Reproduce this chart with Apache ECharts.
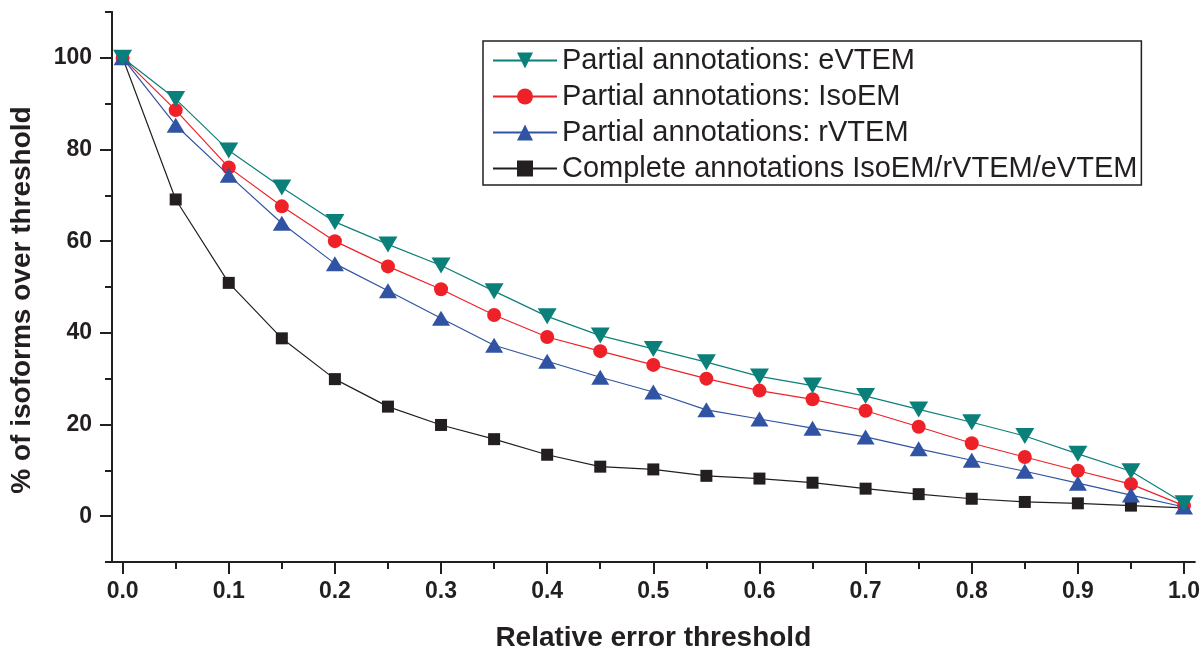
<!DOCTYPE html>
<html>
<head>
<meta charset="utf-8">
<script src="https://cdn.jsdelivr.net/npm/echarts@6/dist/echarts.min.js"></script>
<style>
  html, body { margin: 0; padding: 0; background: #fff; }
  #chart { width: 1203px; height: 657px; }
</style>
</head>
<body>
<div id="chart"></div>
<script>
// relative error thresholds (x)
const thresholds = [0, 0.05, 0.1, 0.15, 0.2, 0.25, 0.3, 0.35, 0.4, 0.45, 0.5,
  0.55, 0.6, 0.65, 0.7, 0.75, 0.8, 0.85, 0.9, 0.95, 1.0]

// % of isoforms over threshold
const eVTEM = [100, 91, 79.8, 71.7, 64.2, 59.3, 54.7, 49.1, 43.6, 39.4, 36.5,
  33.6, 30.5, 28.5, 26.2, 23.3, 20.5, 17.5, 13.6, 9.8, 2.8]
const isoEM = [100, 88.6, 76.1, 67.6, 60.0, 54.5, 49.5, 43.9, 39.1, 36.0, 33.0,
  30.0, 27.4, 25.5, 23.0, 19.5, 15.9, 12.9, 9.9, 7.0, 2.3]
const rVTEM = [100, 85.3, 74.4, 63.9, 55.1, 49.2, 43.2, 37.3, 33.8, 30.3, 27.1,
  23.2, 21.2, 19.2, 17.3, 14.7, 12.2, 9.8, 7.2, 4.6, 2.0]
const complete = [100, 69.1, 50.9, 38.8, 29.9, 23.9, 19.9, 16.8, 13.4, 10.8, 10.2,
  8.8, 8.2, 7.3, 6.0, 4.8, 3.8, 3.1, 2.8, 2.3, 1.8]

const seriesNames = [
  'Partial annotations: eVTEM',
  'Partial annotations: IsoEM',
  'Partial annotations: rVTEM',
  'Complete annotations IsoEM/rVTEM/eVTEM'
]

// tick positions
const xMajorTicks = [0, 0.1, 0.2, 0.3, 0.4, 0.5, 0.6, 0.7, 0.8, 0.9, 1.0]
const xMinorTicks = [0.05, 0.15, 0.25, 0.35, 0.45, 0.55, 0.65, 0.75, 0.85, 0.95]
const yMajorTicks = [0, 20, 40, 60, 80, 100]
const yMinorTicks = [-10, 10, 30, 50, 70, 90, 110]

const ink = '#231f20'
const font = '"Liberation Sans", Arial, sans-serif'

function pairs(vals) {
  return thresholds.map((x, i) => [x, vals[i]])
}

const chart = echarts.init(document.getElementById('chart'), null, { renderer: 'canvas' })

const baseAxis = {
  axisLine: { show: true, onZero: false, lineStyle: { color: ink, width: 2 } },
  splitLine: { show: false }
}

// major ticks + labels on the first axis, minor ticks on an overlaid second axis
function ticks(len, values) {
  return { show: true, inside: false, length: len, customValues: values, lineStyle: { color: ink, width: 2 } }
}

const option = {
  backgroundColor: '#fff',
  animation: false,
  grid: { left: 112, right: 6, top: 12, bottom: 88 },
  legend: {
    orient: 'vertical',
    left: 483,
    top: 41,
    padding: [5, 4, 2, 9],
    itemGap: 7,
    itemWidth: 64,
    itemHeight: 20,
    borderColor: ink,
    borderWidth: 1.5,
    data: seriesNames,
    textStyle: { fontFamily: font, fontSize: 29, color: ink }
  },
  xAxis: [
    Object.assign({}, baseAxis, {
      type: 'value',
      position: 'bottom',
      min: -0.01,
      max: 1.01,
      name: 'Relative error threshold',
      nameLocation: 'middle',
      nameGap: 62,
      nameTextStyle: { fontFamily: font, fontSize: 28, fontWeight: 'bold', color: ink },
      axisTick: ticks(12, xMajorTicks),
      axisLabel: {
        customValues: xMajorTicks,
        margin: 18,
        fontFamily: font, fontSize: 23, fontWeight: 'bold', color: ink,
        formatter: v => v.toFixed(1)
      }
    }),
    Object.assign({}, baseAxis, {
      type: 'value',
      position: 'bottom',
      min: -0.01,
      max: 1.01,
      axisTick: ticks(7, xMinorTicks),
      axisLabel: { show: false }
    })
  ],
  yAxis: [
    Object.assign({}, baseAxis, {
      type: 'value',
      position: 'left',
      min: -10,
      max: 110,
      name: '% of isoforms over threshold',
      nameLocation: 'middle',
      nameGap: 76,
      nameTextStyle: { fontFamily: font, fontSize: 28, fontWeight: 'bold', color: ink, padding: [0, 26, 0, 0] },
      axisTick: ticks(12, yMajorTicks),
      axisLabel: {
        customValues: yMajorTicks,
        margin: 20,
        fontFamily: font, fontSize: 23, fontWeight: 'bold', color: ink
      }
    }),
    Object.assign({}, baseAxis, {
      type: 'value',
      position: 'left',
      min: -10,
      max: 110,
      axisTick: ticks(7, yMinorTicks),
      axisLabel: { show: false }
    })
  ],
  series: [
    {
      name: seriesNames[0],
      type: 'line',
      z: 5,
      data: pairs(eVTEM),
      symbol: 'triangle',
      symbolRotate: 180,
      symbolSize: [19, 16],
      lineStyle: { color: '#0b807a', width: 1.2 },
      itemStyle: { color: '#0b807a' }
    },
    {
      name: seriesNames[1],
      type: 'line',
      z: 3,
      data: pairs(isoEM),
      symbol: 'circle',
      symbolSize: 14,
      lineStyle: { color: '#ee2128', width: 1.2 },
      itemStyle: { color: '#ee2128' }
    },
    {
      name: seriesNames[2],
      type: 'line',
      z: 4,
      data: pairs(rVTEM),
      symbol: 'triangle',
      symbolSize: [18, 15],
      lineStyle: { color: '#3053a3', width: 1.2 },
      itemStyle: { color: '#3053a3' }
    },
    {
      name: seriesNames[3],
      type: 'line',
      z: 2,
      data: pairs(complete),
      symbol: 'rect',
      symbolSize: 12,
      lineStyle: { color: ink, width: 1.2 },
      itemStyle: { color: ink }
    }
  ]
}

chart.setOption(option)
</script>
</body>
</html>
